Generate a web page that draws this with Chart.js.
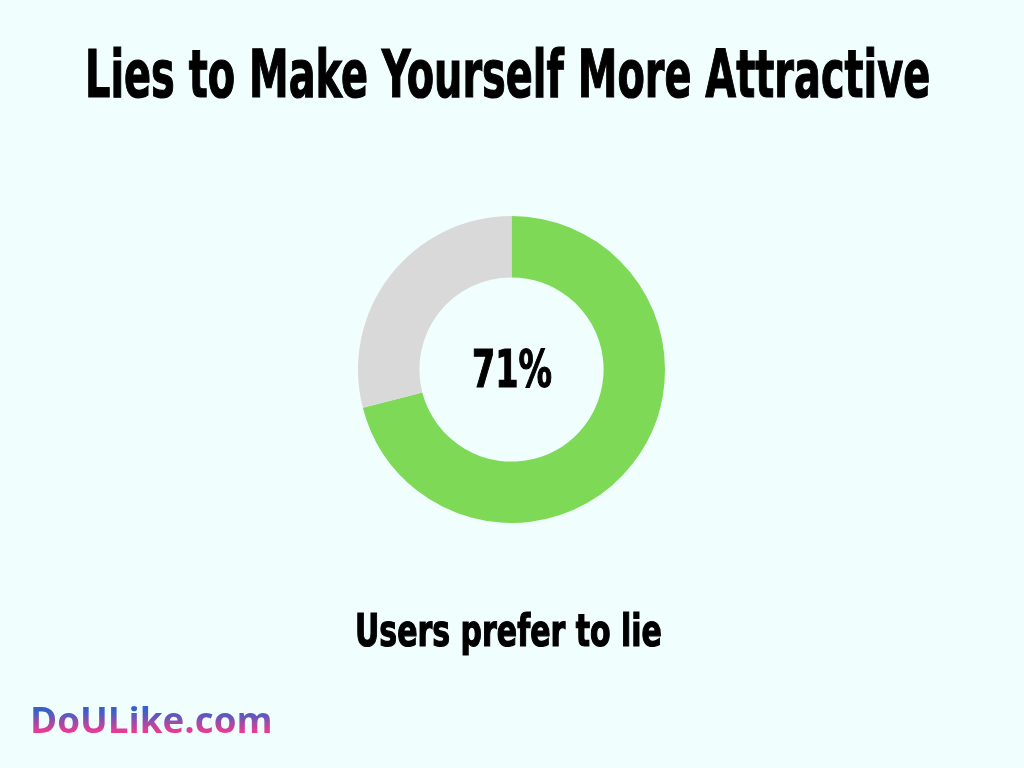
<!DOCTYPE html>
<html>
<head>
<meta charset="utf-8">
<script src="https://cdn.jsdelivr.net/npm/chart.js@4.4.1/dist/chart.umd.min.js"></script>
<style>
    html, body { margin: 0; padding: 0; }
    body { width: 1024px; height: 768px; background: #f0fffe; position: relative; overflow: hidden; }
    .txt { position: absolute; white-space: nowrap; transform-origin: 0 0; margin: 0; color: #000; }
    .heavy {
        font-family: "Liberation Sans Narrow", "DejaVu Sans Condensed", "Liberation Sans", sans-serif;
        font-weight: bold; -webkit-text-stroke: 1.2px #000;
    }
    #logo {
        font-family: "Open Sans", "Noto Sans", sans-serif; font-weight: 700;
        background: linear-gradient(#3a60c8 28%, #e43c95 82%);
        -webkit-background-clip: text; background-clip: text; color: transparent;
    }
    #chartBox { position: absolute; left: 358px; top: 216px; width: 307px; height: 307px; }
</style>
</head>
<body>
<h1 id="title" class="txt heavy">Lies to Make Yourself More Attractive</h1>
<div id="chartBox"><canvas id="donut"></canvas></div>
<div id="center" class="txt heavy"></div>
<div id="caption" class="txt heavy"></div>
<div id="logo" class="txt">DoULike.com</div>
<script>
// chart data
var labels = ["Users prefer to lie", "Others"];
var values = [71, 29];
var colors = ["#7ed957", "#d9d9d9"];

new Chart(document.getElementById("donut"), {
    type: "doughnut",
    data: {
        labels: labels,
        datasets: [{ data: values, backgroundColor: colors, borderWidth: 0, hoverOffset: 0 }]
    },
    options: {
        responsive: true,
        maintainAspectRatio: false,
        animation: false,
        cutout: "60%",
        layout: { padding: 0 },
        plugins: { legend: { display: false }, tooltip: { enabled: false } }
    }
});

document.getElementById("center").textContent = values[0] + "%";
document.getElementById("caption").textContent = labels[0];

// size a text element so its ink box fits left..right with a given cap height and baseline
function place(el, left, right, baseline, capHeight) {
    var cs = getComputedStyle(el);
    var ctx = document.createElement("canvas").getContext("2d");
    ctx.font = cs.fontWeight + " 100px " + cs.fontFamily;
    var m = ctx.measureText(el.textContent);
    var cap = ctx.measureText("H").actualBoundingBoxAscent;
    var size = capHeight / cap * 100;
    var k = size / 100;
    var ink = (m.actualBoundingBoxLeft + m.actualBoundingBoxRight) * k;
    var scale = (right - left) / ink;
    var asc = m.fontBoundingBoxAscent * k, desc = m.fontBoundingBoxDescent * k;
    el.style.fontSize = size + "px";
    el.style.lineHeight = size + "px";
    el.style.left = (left + m.actualBoundingBoxLeft * k * scale) + "px";
    el.style.top = (baseline - (size - asc - desc) / 2 - asc) + "px";
    el.style.transform = "scaleX(" + scale + ")";
}

document.fonts.ready.then(function () {
    place(document.getElementById("title"), 89, 929, 97.5, 48);
    place(document.getElementById("center"), 474, 551, 386.5, 38);
    place(document.getElementById("caption"), 358, 661, 646.5, 32);
    place(document.getElementById("logo"), 33, 270, 733, 26);
});
</script>
</body>
</html>
